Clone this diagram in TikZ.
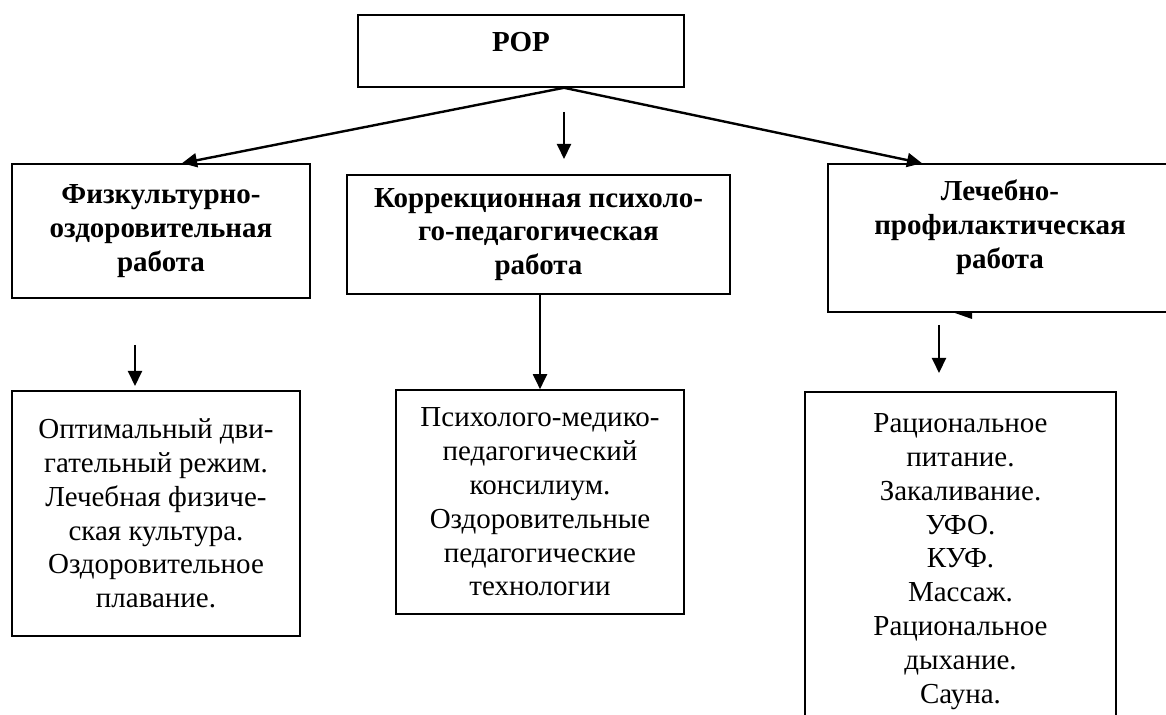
\documentclass[tikz,border=0pt]{standalone}
\usepackage{fontspec}
\setmainfont{Liberation Serif}
\usetikzlibrary{arrows.meta}

\begin{document}
\begin{tikzpicture}[x=0.5pt, y=-0.5pt,
  txt/.style={align=center, font=\fontsize{14.5}{16.9}\selectfont},
  box/.style={txt, draw, fill=white, line width=0.8pt, inner sep=0pt},
  head/.style={box, font=\fontsize{14.5}{16.9}\selectfont\bfseries},
  arr/.style={line width=1pt, -{Triangle[length=7.5pt,width=7pt]}}]

\useasboundingbox (0,0) rectangle (1166,715);
%\draw[step=50, gray, very thin] (0,0) grid (1166,715);

\node[head, minimum width=163pt, text height=18.5pt, text depth=17.5pt] (rop) at (521,51) {РОР};

\node[head, minimum width=149pt, minimum height=67pt] (fiz) at (161,231) {Физкультурно-\\оздоровительная\\работа};
\node[head, minimum width=191.5pt, minimum height=59.5pt] (korr) at (538.5,234.5) {Коррекционная психоло-\\го-педагогическая\\работа};
\node[box, minimum width=172pt, minimum height=74pt] (lech) at (1000,238) {};
\node[txt, font=\fontsize{14.5}{16.9}\selectfont\bfseries] (lechT) at (1000,227) {Лечебно-\\профилактическая\\работа};

\node[box, minimum width=144pt, minimum height=122.5pt] (opt) at (156,513.5) {Оптимальный дви-\\гательный режим.\\Лечебная физиче-\\ская культура.\\Оздоровительное\\плавание.};
\node[box, minimum width=144pt, minimum height=112pt] (psi) at (540,502) {Психолого-медико-\\педагогический\\консилиум.\\Оздоровительные\\педагогические\\технологии};
\node[box, minimum width=155.5pt, anchor=north, inner ysep=11pt] (rac) at (960.5,391) {Рациональное\\питание.\\Закаливание.\\УФО.\\КУФ.\\Массаж.\\Рациональное\\дыхание.\\Сауна.};

\draw[arr, line width=1.2pt] ([xshift=21.5pt]rop.south) -- ([xshift=10.5pt]fiz.north);
\draw[arr, line width=1.2pt] ([xshift=21.5pt]rop.south) -- ([xshift=-39pt]lech.north);

\coordinate (korrA) at (564,112);
\coordinate (korrB) at (564,159);
\draw[arr] (korrA) -- (korrB);
\draw[arr] (psi.north |- korr.south) -- (psi.north);

\coordinate (fizA) at (135,345);
\coordinate (fizB) at (135,386);
\draw[arr] (fizA) -- (fizB);

\coordinate (lechA) at (939,325);
\coordinate (lechB) at (939,373);
\draw[arr] (lechA) -- (lechB);
\fill (955,313) -- (972,313) -- (972,319) -- cycle;

\end{tikzpicture}
\end{document}
